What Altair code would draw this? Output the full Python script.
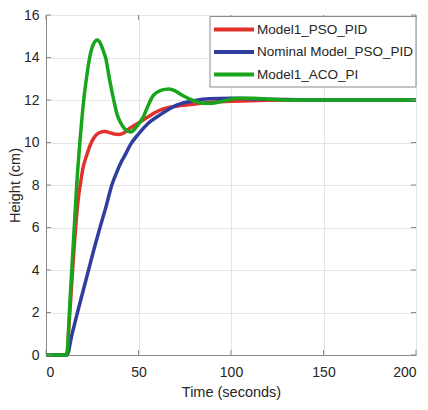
import altair as alt
import pandas as pd

FONT = "Liberation Sans"

series_names = ["Model1_PSO_PID", "Nominal Model_PSO_PID", "Model1_ACO_PI"]
series_colors = ["#e2302b", "#2f3e9e", "#17a51b"]

t_red = [0, 11.2, 12.5, 14, 15.5, 16.5, 17.5, 18.5, 20, 22, 24.5, 27, 30, 31.5, 33, 35, 37,
         39.3, 42, 45, 50, 55, 61.6, 70, 79.5, 90, 100, 115, 130, 150, 200]
h_red = [0, 0, 1.5, 3.5, 5.4, 6.5, 7.4, 8.0, 8.8, 9.4, 10.0, 10.35, 10.5, 10.52, 10.5, 10.45, 10.4,
         10.38, 10.45, 10.65, 10.92, 11.2, 11.52, 11.7, 11.8, 11.89, 11.94, 11.98, 12.0, 12.0, 12.0]

t_blue = [0, 11.3, 14, 17, 20, 23, 26, 29.5, 32.2, 35.6, 38, 40.2, 43, 45.8, 50, 55, 61.6,
          70.6, 80, 88.4, 100, 115, 130, 150, 200]
h_blue = [0, 0, 0.95, 2.0, 3.0, 4.0, 5.0, 6.1, 6.9, 8.0, 8.55, 9.0, 9.45, 9.92, 10.4, 10.88, 11.3,
          11.76, 11.97, 12.06, 12.08, 12.05, 12.02, 12.0, 12.0]

t_green = [0, 11.2, 13, 15, 17.3, 18.3, 20.4, 22, 23.6, 25.5, 27.7, 29.5, 31, 32.2, 34.5, 36.6,
           38.5, 40.2, 42.5, 45.9, 49, 52.7, 55, 58, 62, 66.6, 70, 74.1, 79.5, 84.8, 90, 97,
           104.5, 112, 120, 135, 200]
h_green = [0, 0, 2.6, 5.6, 8.9, 10.0, 12.0, 13.1, 14.0, 14.6, 14.82, 14.65, 14.3, 14.0, 12.9, 12.0,
           11.3, 10.95, 10.65, 10.5, 10.75, 11.22, 11.7, 12.22, 12.45, 12.52, 12.42, 12.2, 11.98,
           11.85, 11.85, 11.98, 12.08, 12.08, 12.04, 12.0, 12.0]

x_ticks = [0, 50, 100, 150, 200]
y_ticks = [0, 2, 4, 6, 8, 10, 12, 14, 16]

rows = []
for name, ts, hs in zip(series_names, [t_red, t_blue, t_green], [h_red, h_blue, h_green]):
    for t, h in zip(ts, hs):
        rows.append({"series": name, "t": t, "h": h})
df = pd.DataFrame(rows)

W, H = 370, 340
FRAME = "#8a8a8a"
GRID = "#e4e4e4"
TXT = "#262626"

xs = alt.Scale(domain=[0, 200], nice=False, zero=False)
ys = alt.Scale(domain=[0, 16], nice=False, zero=False)
color = alt.Color("series:N", scale=alt.Scale(domain=series_names, range=series_colors), legend=None)

xaxis = alt.Axis(values=x_ticks, ticks=False, labelPadding=10, title="Time (seconds)",
                 titlePadding=6, grid=True)
yaxis = alt.Axis(values=y_ticks, ticks=False, labelPadding=7, title="Height (cm)",
                 titleX=-31, titleY=H / 2, titleAngle=270, titleBaseline="middle",
                 titleAlign="center", grid=True)

layers = []
for i, name in enumerate(series_names):
    layers.append(
        alt.Chart(df).transform_filter(alt.datum.series == name)
        .mark_line(strokeWidth=3.5, interpolate="monotone")
        .encode(
            x=alt.X("t:Q", scale=xs, axis=xaxis),
            y=alt.Y("h:Q", scale=ys, axis=yaxis if i == 0 else None),
            color=color,
        )
    )

xt = pd.DataFrame({"t": x_ticks})
yt = pd.DataFrame({"h": y_ticks})
TL = 5
tick_x = alt.X("t:Q", scale=xs, axis=xaxis)
tick_y = alt.Y("h:Q", scale=ys, axis=None)
layers += [
    alt.Chart(xt).mark_rule(color=FRAME, strokeWidth=1).encode(x=tick_x, y=alt.value(H), y2=alt.value(H - TL)),
    alt.Chart(xt).mark_rule(color=FRAME, strokeWidth=1).encode(x=tick_x, y=alt.value(0), y2=alt.value(TL)),
    alt.Chart(yt).mark_rule(color=FRAME, strokeWidth=1).encode(y=tick_y, x=alt.value(0), x2=alt.value(TL)),
    alt.Chart(yt).mark_rule(color=FRAME, strokeWidth=1).encode(y=tick_y, x=alt.value(W), x2=alt.value(W - TL)),
]

legend_df = pd.DataFrame({"series": series_names})
leg_y = alt.Y("series:N", scale=alt.Scale(type="point", domain=series_names, range=[14.5, 59.5], padding=0),
              axis=None)
layers += [
    alt.Chart(legend_df.head(1)).mark_rect(fill="white", stroke=FRAME, strokeWidth=1).encode(
        x=alt.value(164), x2=alt.value(W), y=alt.value(1.5), y2=alt.value(72)),
    alt.Chart(legend_df).mark_rule(strokeWidth=4).encode(
        x=alt.value(168), x2=alt.value(208), y=leg_y, color=color),
    alt.Chart(legend_df).mark_text(align="left", baseline="middle", fontSize=13.5, font=FONT, color=TXT).encode(
        x=alt.value(211), y=leg_y, text="series:N"),
]

chart = (
    alt.layer(*layers)
    .resolve_scale(y="independent")
    .properties(width=W, height=H,
                padding={"left": 38, "top": 7, "right": 4, "bottom": 47},
                autosize=alt.AutoSizeParams(type="none"))
    .configure(font=FONT)
    .configure_view(stroke=FRAME, strokeWidth=1)
    .configure_axis(domainColor=FRAME, domainWidth=1, gridColor=GRID, gridWidth=1,
                    labelFont=FONT, labelFontSize=14, labelColor=TXT,
                    titleFont=FONT, titleFontSize=14.5, titleFontWeight="normal", titleColor=TXT)
)

chart.save("out.html", embed_options={"renderer": "svg", "actions": False})
